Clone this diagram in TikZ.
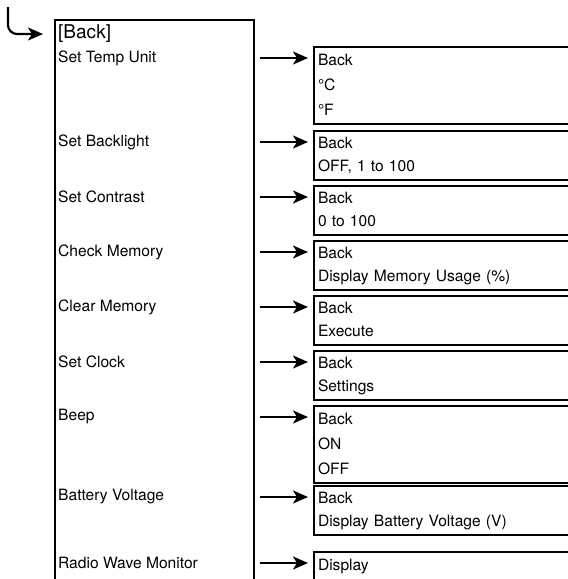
\documentclass[tikz,border=0pt]{standalone}
\usepackage{fontspec}
\setmainfont{TeX Gyre Heros}
\usetikzlibrary{arrows.meta, positioning}

\begin{document}
\begin{tikzpicture}[
    x=1pt, y=-1pt,
    item/.style={anchor=west, inner sep=0pt, font=\fontsize{15.6}{18}\selectfont},
    choice/.style={draw, line width=2pt, anchor=north west, text width=292pt, align=left, inner xsep=4pt, inner ysep=1pt, font=\fontsize{15.6}{23.5}\selectfont},
    wide/.style={font=\fontsize{15.6}{25}\selectfont},
    link/.style={-{Stealth[length=15pt, width=13pt, inset=4pt]}, line width=2.2pt, shorten <=5pt, shorten >=5pt},
]
\useasboundingbox (0,0) rectangle (568,579);
\clip (0,0) rectangle (568,579);

% Menu column
\node[draw, line width=1.8pt, anchor=north west, minimum width=199pt, minimum height=620pt, inner sep=0pt] (menu) at (54,19) {};
\node[item, font=\fontsize{19}{22}\selectfont] (back) at (58,34) {[Back]};
\node[item] (temp) at (58,58) {Set Temp Unit};
\node[item] (light) at (58,142) {Set Backlight};
\node[item] (contrast) at (58,197) {Set Contrast};
\node[item] (check) at (58,252) {Check Memory};
\node[item] (clear) at (58,307) {Clear Memory};
\node[item] (clock) at (58,362) {Set Clock};
\node[item] (beep) at (58,417) {Beep};
\node[item] (battery) at (58,497) {Battery Voltage};
\node[item] (radio) at (58,563) {Radio Wave Monitor};

% Sub menus
\node[choice, wide] (tempbox) at (313,46) {\strut Back\\\strut °C\\\strut °F};
\node[choice] (lightbox) at (313,130) {\strut Back\\\strut OFF, 1 to 100};
\node[choice] (contrastbox) at (313,185) {\strut Back\\\strut 0 to 100};
\node[choice] (checkbox) at (313,240) {\strut Back\\\strut Display Memory Usage (\%)};
\node[choice] (clearbox) at (313,295) {\strut Back\\\strut Execute};
\node[choice] (clockbox) at (313,350) {\strut Back\\\strut Settings};
\node[choice, wide] (beepbox) at (313,405) {\strut Back\\\strut ON\\\strut OFF};
\node[choice] (batterybox) at (313,485) {\strut Back\\\strut Display Battery Voltage (V)};
\node[choice, minimum height=50pt, text depth=30pt] (radiobox) at (313,551) {\strut Display};

% Arrows
\coordinate (entry) at (8,7);
\draw[link, rounded corners=9pt, shorten <=0pt, shorten >=15pt] (entry) |- (back.west);
\draw[link] (menu.east |- temp) -- (tempbox.west |- temp);
\draw[link] (menu.east |- light) -- (lightbox.west |- light);
\draw[link] (menu.east |- contrast) -- (contrastbox.west |- contrast);
\draw[link] (menu.east |- check) -- (checkbox.west |- check);
\draw[link] (menu.east |- clear) -- (clearbox.west |- clear);
\draw[link] (menu.east |- clock) -- (clockbox.west |- clock);
\draw[link] (menu.east |- beep) -- (beepbox.west |- beep);
\draw[link] (menu.east |- battery) -- (batterybox.west |- battery);
\draw[link] (menu.east |- radio) -- (radiobox.west |- radio);

\end{tikzpicture}
\end{document}
